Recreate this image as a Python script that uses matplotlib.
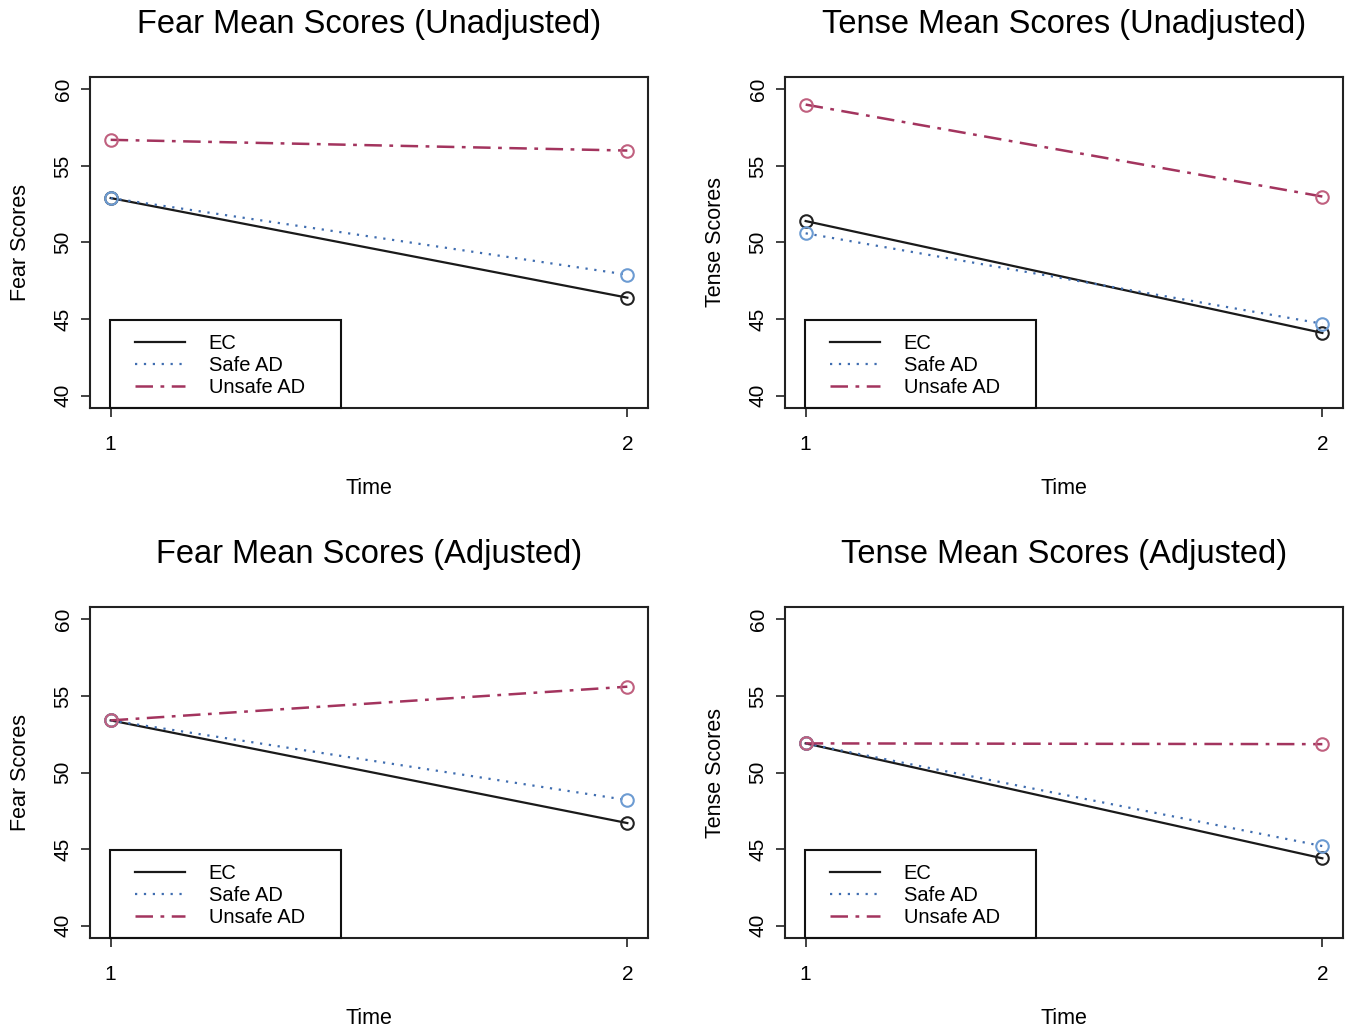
import matplotlib
matplotlib.use('Agg')
import matplotlib.pyplot as plt
from matplotlib.patches import Rectangle

plt.rcParams['font.family'] = ['Liberation Sans', 'DejaVu Sans']

times = [1, 2]
groups = ['EC', 'Safe AD', 'Unsafe AD']

titles = ['Fear Mean Scores (Unadjusted)', 'Tense Mean Scores (Unadjusted)',
          'Fear Mean Scores (Adjusted)', 'Tense Mean Scores (Adjusted)']
ylabels = ['Fear Scores', 'Tense Scores', 'Fear Scores', 'Tense Scores']

fear_unadj_ec = [52.9, 46.4]
fear_unadj_safe = [52.9, 47.9]
fear_unadj_unsafe = [56.7, 56.0]

tense_unadj_ec = [51.4, 44.1]
tense_unadj_safe = [50.6, 44.7]
tense_unadj_unsafe = [59.0, 53.0]

fear_adj_ec = [53.4, 46.7]
fear_adj_safe = [53.4, 48.2]
fear_adj_unsafe = [53.4, 55.6]

tense_adj_ec = [51.9, 44.4]
tense_adj_safe = [51.9, 45.2]
tense_adj_unsafe = [51.9, 51.85]

panels = [
    [fear_unadj_ec, fear_unadj_safe, fear_unadj_unsafe],
    [tense_unadj_ec, tense_unadj_safe, tense_unadj_unsafe],
    [fear_adj_ec, fear_adj_safe, fear_adj_unsafe],
    [tense_adj_ec, tense_adj_safe, tense_adj_unsafe],
]

line_colors = ['#1a1a1a', '#3f6db0', '#a3345e']
marker_colors = ['#222222', '#6c9bd2', '#c0607f']
styles = ['-', (0, (1, 3)), (0, (7, 3, 1.5, 3))]
widths = [1.6, 1.6, 1.8]

W, H = 1355, 1034
fig = plt.figure(figsize=(W / 100, H / 100), dpi=100)

lefts = [90, 785, 90, 785]
tops = [77, 77, 607, 607]
aw, ah = 558, 331

for i in range(4):
    ax = fig.add_axes([lefts[i] / W, 1 - (tops[i] + ah) / H, aw / W, ah / H])
    for k, vals in enumerate(panels[i]):
        ax.plot(times, vals, linestyle=styles[k], color=line_colors[k],
                linewidth=widths[k], label=groups[k],
                marker='o', markersize=9, markerfacecolor='none',
                markeredgecolor=marker_colors[k], markeredgewidth=1.5)
    ax.set_xlim(0.96, 2.04)
    ax.set_ylim(39.2, 60.8)
    ax.set_xticks([1, 2])
    ax.set_yticks([40, 45, 50, 55, 60])
    ax.tick_params(axis='both', labelsize=15, length=6.5, width=1.2,
                   direction='out', color='#222222')
    ax.tick_params(axis='x', pad=13)
    ax.tick_params(axis='y', pad=6)
    for lab in ax.get_yticklabels():
        lab.set_rotation(90)
        lab.set_va('center')
    for sp in ax.spines.values():
        sp.set_linewidth(1.5)
        sp.set_color('#222222')
    ax.set_title(titles[i], fontsize=23.5, pad=32)
    ax.set_xlabel('Time', fontsize=15.5, labelpad=17)
    ax.set_ylabel(ylabels[i], fontsize=15.5, labelpad=16)

    # legend box
    ax.add_patch(Rectangle((20 / aw, 0), (341 - 110) / aw, 88 / ah,
                           transform=ax.transAxes, fill=False,
                           edgecolor='#111111', linewidth=1.5,
                           clip_on=False, zorder=5))
    handles, labels = ax.get_legend_handles_labels()
    leg = ax.legend(handles, labels, loc='upper left',
                    bbox_to_anchor=(45 / aw, 74 / ah), frameon=False,
                    fontsize=14.5, handlelength=2.5, handletextpad=1.15,
                    labelspacing=0.15, borderpad=0, borderaxespad=0)
    for h in leg.get_lines():
        h.set_marker('')

fig.savefig('out.png', dpi=100)
